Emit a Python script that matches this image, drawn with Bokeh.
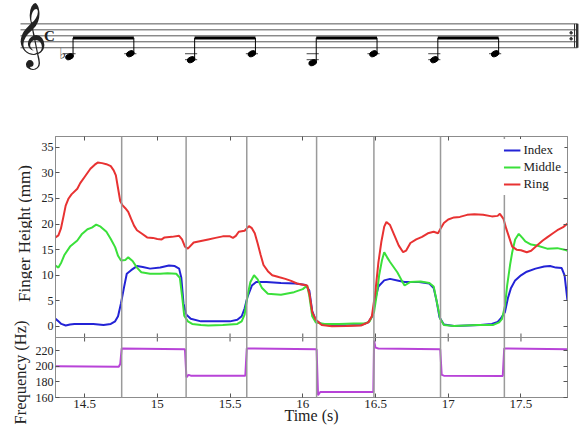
import math
from bokeh.plotting import figure
from bokeh.layouts import column, row
from bokeh.models import Range1d, LinearAxis, FixedTicker, Span, CustomJSTickFormatter
from bokeh.core.properties import value
from bokeh.embed import file_html
from bokeh.resources import INLINE

FONT = "Liberation Serif"

# ---------------- data ----------------
# music staff: eighth notes, pitch as staff step (bottom line E4 = 0)
note_names = ["Bb3", "C4", "A3", "C4", "G3", "C4", "A3", "C4"]
note_index = [0, 1, 2, 3, 4, 5, 6, 7]
pitch_step = {"C4": -2, "Bb3": -3, "A3": -4, "G3": -5}
staff_lines = [0, 2, 4, 6, 8]
beam_step = 3.3

# note boundaries (s)
boundaries = [14.755, 15.198, 15.615, 16.095, 16.489, 16.947, 17.386]

x_ticks = [14.5, 15, 15.5, 16, 16.5, 17, 17.5]
h_ticks = [0, 5, 10, 15, 20, 25, 30, 35]
f_ticks = [160, 180, 200, 220]

index_t = [14.30, 14.32, 14.34, 14.37, 14.40, 14.43, 14.50, 14.56, 14.63, 14.68, 14.71, 14.73, 14.75,
           14.77, 14.79, 14.82, 14.86, 14.90, 14.95, 15.02, 15.08, 15.12, 15.15, 15.165, 15.18, 15.20,
           15.23, 15.30, 15.40, 15.50, 15.55, 15.58, 15.60, 15.62, 15.65, 15.68, 15.75, 15.85, 15.95,
           16.02, 16.045, 16.065, 16.09, 16.13, 16.20, 16.30, 16.40, 16.45, 16.48, 16.50, 16.52, 16.56,
           16.60, 16.65, 16.70, 16.80, 16.87, 16.90, 16.92, 16.94, 16.97, 17.04, 17.13, 17.22, 17.30,
           17.34, 17.36, 17.39, 17.41, 17.43, 17.46, 17.50, 17.54, 17.60, 17.66, 17.70, 17.74, 17.78,
           17.80, 17.82]
index_h = [1.5, 1.0, 0.5, 0.2, 0.4, 0.5, 0.5, 0.5, 0.3, 0.5, 1.0, 2.0, 4.5,
           7.5, 10.3, 11.0, 11.8, 11.6, 11.3, 11.5, 11.9, 11.8, 11.3, 9.5, 4.5, 2.3,
           1.5, 1.0, 1.0, 1.0, 1.3, 2.0, 3.5, 5.8, 8.0, 8.7, 8.7, 8.5, 8.4,
           8.1, 7.0, 3.0, 1.2, 0.4, 0.2, 0.2, 0.3, 0.8, 2.1, 5.5, 7.8, 9.0,
           9.3, 9.0, 8.7, 8.7, 8.4, 7.5, 5.0, 1.8, 0.4, 0.1, 0.2, 0.3, 0.5,
           0.9, 1.5, 2.8, 5.5, 7.4, 9.0, 10.0, 10.7, 11.3, 11.7, 11.8, 11.5, 11.4,
           10.0, 5.0]

middle_t = [14.30, 14.32, 14.34, 14.36, 14.40, 14.45, 14.48, 14.52, 14.55, 14.58, 14.61, 14.65, 14.68,
            14.71, 14.73, 14.75, 14.78, 14.80, 14.83, 14.86, 14.89, 14.95, 15.02, 15.07, 15.13, 15.155,
            15.17, 15.185, 15.21, 15.24, 15.30, 15.35, 15.45, 15.55, 15.58, 15.60, 15.62, 15.64, 15.665,
            15.69, 15.72, 15.76, 15.85, 15.94, 16.00, 16.03, 16.045, 16.065, 16.09, 16.15, 16.25, 16.35,
            16.43, 16.46, 16.49, 16.51, 16.525, 16.545, 16.56, 16.58, 16.60, 16.65, 16.68, 16.70, 16.74,
            16.81, 16.87, 16.90, 16.92, 16.945, 16.97, 17.04, 17.12, 17.20, 17.31, 17.35, 17.37, 17.39,
            17.405, 17.425, 17.44, 17.46, 17.485, 17.51, 17.53, 17.57, 17.61, 17.68, 17.75, 17.80, 17.82]
middle_h = [11.9, 11.5, 12.5, 13.9, 15.6, 16.8, 18.0, 19.0, 19.3, 19.9, 19.5, 18.5, 17.1,
            15.5, 13.8, 12.9, 13.0, 13.5, 12.8, 11.5, 10.6, 10.3, 10.3, 10.4, 10.3, 9.5,
            6.0, 2.1, 1.0, 0.5, 0.3, 0.2, 0.3, 0.5, 1.0, 2.3, 6.0, 8.7, 10.0,
            9.2, 7.5, 6.4, 6.2, 6.7, 7.3, 8.0, 6.0, 2.0, 0.8, 0.5, 0.5, 0.6,
            0.6, 1.0, 2.8, 6.5, 10.0, 13.0, 14.5, 13.5, 12.6, 10.6, 9.0, 8.0, 8.7,
            8.8, 8.5, 7.8, 5.0, 1.5, 0.3, 0.1, 0.2, 0.3, 0.3, 0.8, 1.5, 4.0,
            8.0, 12.0, 14.5, 17.0, 18.1, 17.3, 16.6, 16.0, 15.8, 15.2, 15.3, 15.0, 14.8]

ring_t = [14.30, 14.32, 14.337, 14.355, 14.37, 14.39, 14.41, 14.45, 14.47, 14.50, 14.54, 14.57, 14.59,
          14.62, 14.65, 14.68, 14.70, 14.715, 14.73, 14.745, 14.76, 14.78, 14.80, 14.82, 14.84, 14.86,
          14.89, 14.93, 14.97, 15.00, 15.03, 15.05, 15.10, 15.15, 15.17, 15.19, 15.21, 15.25, 15.30,
          15.35, 15.40, 15.45, 15.50, 15.52, 15.54, 15.56, 15.60, 15.63, 15.65, 15.67, 15.69, 15.71,
          15.73, 15.76, 15.79, 15.84, 15.88, 15.92, 15.96, 16.03, 16.045, 16.065, 16.09, 16.13, 16.20,
          16.30, 16.40, 16.45, 16.475, 16.50, 16.52, 16.54, 16.56, 16.575, 16.60, 16.63, 16.66, 16.69,
          16.71, 16.74, 16.78, 16.82, 16.86, 16.90, 16.93, 16.945, 16.97, 17.00, 17.04, 17.08, 17.13,
          17.18, 17.24, 17.30, 17.34, 17.355, 17.38, 17.40, 17.42, 17.44, 17.47, 17.50, 17.54, 17.57,
          17.61, 17.65, 17.68, 17.72, 17.75, 17.79, 17.82]
ring_h = [17.4, 17.8, 19.1, 21.5, 23.6, 25.0, 25.8, 26.9, 28.0, 29.2, 30.8, 31.6, 32.0,
          31.9, 31.7, 31.3, 30.5, 29.5, 27.0, 24.5, 23.7, 23.1, 22.4, 21.0, 19.7, 18.8,
          18.2, 17.4, 17.3, 17.1, 17.0, 17.4, 17.5, 17.7, 17.0, 15.6, 15.2, 16.4, 16.7,
          17.0, 17.3, 17.6, 17.6, 17.3, 17.7, 18.5, 18.7, 19.6, 19.2, 18.2, 16.2, 14.0,
          12.0, 10.8, 10.0, 9.6, 9.3, 8.9, 8.4, 8.0, 6.5, 2.8, 1.3, 0.3, 0.05,
          0.1, 0.2, 0.8, 2.0, 7.0, 12.5, 16.5, 19.5, 20.4, 19.8, 17.8, 15.8, 14.5,
          14.8, 16.3, 17.0, 17.5, 18.2, 18.5, 18.2, 19.0, 20.2, 20.9, 21.3, 21.4, 21.8,
          21.9, 21.8, 21.5, 21.6, 22.0, 21.0, 19.0, 17.3, 15.6, 15.0, 14.9, 14.5, 14.8,
          15.8, 16.8, 17.4, 18.2, 18.8, 19.4, 20.1]

freq_t = [14.30, 14.735, 14.745, 14.755, 15.19, 15.20, 15.215, 15.23, 15.605, 15.615, 16.095,
          16.105, 16.12, 16.485, 16.49, 16.50, 16.52, 16.945, 16.955, 16.97, 17.375, 17.385, 17.82]
freq_hz = [200, 199.5, 203, 223, 222, 186, 189, 188, 188, 223, 222,
           163, 167, 167, 233, 224, 223, 222, 189, 188, 187.5, 223, 222]

# ---------------- staff figure ----------------
note_steps = [pitch_step[nm] for nm in note_names]
staff = figure(width=579, height=100, x_range=Range1d(-1.135, 8.388), y_range=Range1d(-17.67, 15.83),
               toolbar_location=None, output_backend="svg", min_border=0,
               x_axis_location=None, y_axis_location=None)
staff.grid.visible = False
staff.outline_line_color = None
n = len(staff_lines)
staff.segment(x0=[-0.806] * n, y0=staff_lines, x1=[8.355] * n, y1=staff_lines,
              line_color="#555555", line_width=1)
lx, ly = [], []
for i, s in zip(note_index, note_steps):
    for L in range(-2, s - 1, -2):
        lx.append(i)
        ly.append(L)
staff.segment(x0=[v - 0.1 for v in lx], y0=ly, x1=[v + 0.1 for v in lx], y1=ly,
              line_color="#444444", line_width=1)
staff.ellipse(x=note_index, y=note_steps, width=8, height=5.5, width_units="screen",
              height_units="screen", angle=0.4, fill_color="black", line_color="black")
stem_x = [i + 0.058 for i in note_index]
staff.segment(x0=stem_x, y0=note_steps, x1=stem_x, y1=[beam_step] * len(stem_x),
              line_color="black", line_width=1)
staff.segment(x0=stem_x[0::2], y0=[beam_step] * 4, x1=stem_x[1::2], y1=[beam_step] * 4,
              line_color="black", line_width=3)
staff.text(x=[-0.64], y=[4.6], text=["\U0001D11E"], text_font=value("DejaVu Sans"),
           text_font_size="56px", text_align="center", text_baseline="middle", text_color="#222222")
staff.text(x=[-0.33], y=[3.8], text=["C"], text_font=value(FONT), text_font_style="bold",
           text_font_size="15px", text_align="center", text_baseline="middle", text_color="#222222")
staff.text(x=[-0.11], y=[-2.0], text=["\u266D"], text_font=value("DejaVu Sans"),
           text_font_size="15px", text_align="center", text_baseline="middle", text_color="#333333")
staff.segment(x0=[8.306], y0=[0], x1=[8.306], y1=[8], line_color="#333333", line_width=1)
staff.segment(x0=[8.350], y0=[0], x1=[8.350], y1=[8], line_color="#333333", line_width=2.5)
staff.scatter(x=[8.25, 8.25], y=[3, 5], size=2.5, color="#333333")

# ---------------- combined plot (height panel on top, frequency panel below) ----------------
LW = 32                      # width of the strip holding the two y-axis titles
W, H = 579 - LW, 326
ML, MR, MT, MB = 55 - LW, 12, 36, 29
upper_px, lower_px = 201, 60
h_lo, h_hi = -2.15, 37.1
f_lo, f_hi = 160, 237
u_per_px = (h_hi - h_lo) / upper_px
y_bottom = h_lo - lower_px * u_per_px
freq_top = f_lo + (f_hi - f_lo) * (upper_px + lower_px) / lower_px
f_per_px = (f_hi - f_lo) / lower_px


def f_to_y(f):
    return y_bottom + (f - f_lo) / (freq_top - f_lo) * (h_hi - y_bottom)


xr = Range1d(14.3, 17.82)

p = figure(width=W, height=H, x_range=xr, y_range=Range1d(y_bottom, h_hi),
           toolbar_location=None, output_backend="svg",
           min_border_top=MT, min_border_bottom=MB, min_border_left=ML, min_border_right=MR)
p.extra_y_ranges = {"freq": Range1d(f_lo, freq_top)}
p.grid.visible = False
p.outline_line_color = "#8c8c8c"

y_tick_pos = h_ticks + [f_to_y(f) for f in f_ticks]
yfmt = CustomJSTickFormatter(args=dict(sep=h_lo, ylo=y_bottom, flo=f_lo,
                                       k=(freq_top - f_lo) / (h_hi - y_bottom)),
                             code="""
if (tick < sep) { return String(Math.round(flo + (tick - ylo) * k)); }
return String(Math.round(tick));
""")
xfmt = CustomJSTickFormatter(code="return tick.toString();")


def style_axis(ax, ticks, formatter, labels=True):
    ax.ticker = FixedTicker(ticks=ticks)
    ax.formatter = formatter
    ax.axis_line_color = "#8c8c8c"
    ax.major_tick_line_color = "#555555"
    ax.major_tick_in = 4
    ax.major_tick_out = 0
    ax.minor_tick_line_color = None
    ax.major_label_text_font = FONT
    if labels:
        ax.major_label_text_color = "#222222"
        ax.major_label_text_font_size = "12px"
        ax.major_label_standoff = 2
    else:
        ax.major_label_text_color = None
        ax.major_label_text_font_size = "0px"
        ax.major_label_standoff = 0
    ax.axis_label_text_font = FONT
    ax.axis_label_text_font_style = "normal"
    ax.axis_label_text_color = "#222222"


style_axis(p.xaxis[0], x_ticks, xfmt)
p.xaxis[0].major_label_text_font_size = "13px"
p.xaxis[0].major_label_standoff = 2
p.xaxis[0].axis_label = "Time (s)"
p.xaxis[0].axis_label_text_font_size = "16px"
p.xaxis[0].axis_label_standoff = -4
style_axis(p.yaxis[0], y_tick_pos, yfmt)
ax_top = LinearAxis()
style_axis(ax_top, x_ticks, xfmt, labels=False)
p.add_layout(ax_top, "above")
ax_r = LinearAxis()
style_axis(ax_r, y_tick_pos, yfmt, labels=False)
p.add_layout(ax_r, "right")

for b in boundaries:
    p.add_layout(Span(location=b, dimension="height", line_color="#9a9a9a", line_width=1.5))
p.add_layout(Span(location=h_lo, dimension="width", line_color="#8c8c8c", line_width=1))
nt = len(x_ticks)
p.segment(x0=x_ticks, y0=[h_lo] * nt, x1=x_ticks, y1=[h_lo + 4 * u_per_px] * nt,
          line_color="#555555", line_width=1)
p.segment(x0=x_ticks, y0=[f_hi] * nt, x1=x_ticks, y1=[f_hi - 4 * f_per_px] * nt,
          line_color="#555555", line_width=1, y_range_name="freq")

p.line(index_t, index_h, line_color="#2323d6", line_width=2, legend_label="Index")
p.line(middle_t, middle_h, line_color="#3ae03a", line_width=2, legend_label="Middle")
p.line(ring_t, ring_h, line_color="#e83232", line_width=2, legend_label="Ring")
p.line(freq_t, freq_hz, line_color="#b843d8", line_width=2, y_range_name="freq")

lg = p.legend[0]
lg.location = "top_right"
lg.label_text_font = FONT
lg.label_text_font_size = "13px"
lg.label_text_color = "#222222"
lg.glyph_width = 17
lg.glyph_height = 14
lg.label_height = 14
lg.spacing = 1
lg.padding = 3
lg.margin = 3
lg.label_standoff = 3
lg.border_line_alpha = 0
lg.background_fill_alpha = 1

# strip with the two y-axis titles (pixel coordinates of the strip)
titles = figure(width=LW, height=H, x_range=Range1d(0, LW), y_range=Range1d(H, 0),
                toolbar_location=None, output_backend="svg",
                min_border_left=0, min_border_right=0, min_border_top=0, min_border_bottom=0,
                x_axis_location=None, y_axis_location=None)
titles.grid.visible = False
titles.outline_line_color = None
titles.text(x=[23.5], y=[133], text=["Finger Height (mm)"],
            angle=math.pi / 2, text_align="center", text_baseline="middle",
            text_font=value(FONT), text_font_size="17px", text_color="#222222")
titles.text(x=[20], y=[272], text=["Frequency (Hz)"],
            angle=math.pi / 2, text_align="center", text_baseline="middle",
            text_font=value(FONT), text_font_size="16.5px", text_color="#222222")

layout = column(staff, row(column(titles, spacing=0), column(p, spacing=0), spacing=0), spacing=0)
open("out.html", "w").write(file_html(layout, INLINE))
